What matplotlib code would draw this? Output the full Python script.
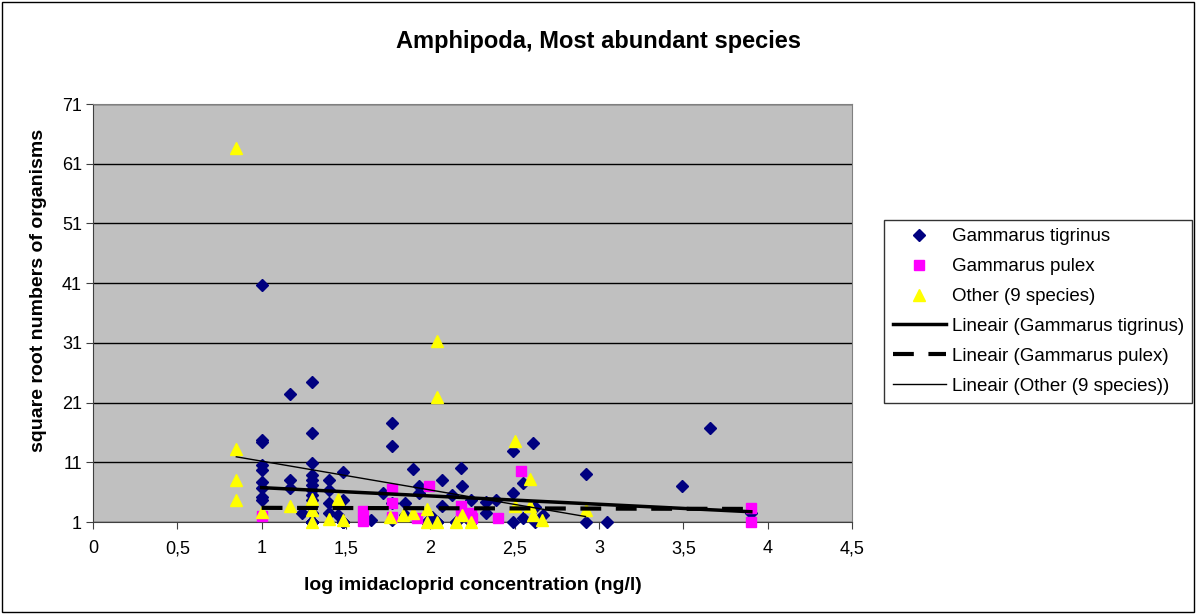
import numpy as np
import matplotlib
matplotlib.use("Agg")
import matplotlib.pyplot as plt
from matplotlib.patches import Rectangle
from matplotlib.ticker import FuncFormatter

plt.rcParams["font.family"] = ["Liberation Sans", "DejaVu Sans"]

# Gammarus tigrinus (log concentration, sqrt numbers)
# the zero counts (y=1) sit under the yellow triangles
tig_x = [1.0, 1.0, 1.0, 1.0, 1.0, 1.0, 1.0, 1.0, 1.0,
         1.17, 1.17, 1.17, 1.24,
         1.3, 1.3, 1.3, 1.3, 1.3, 1.3, 1.3, 1.3, 1.3, 1.3, 1.3,
         1.4, 1.4, 1.4, 1.4, 1.45, 1.48, 1.48,
         1.65, 1.72, 1.77, 1.77, 1.77, 1.77, 1.85, 1.85, 1.9, 1.93, 1.93,
         2.01, 2.07, 2.07, 2.13, 2.18, 2.19, 2.24, 2.33, 2.33, 2.39,
         2.49, 2.49, 2.49, 2.55, 2.55, 2.61, 2.62, 2.62, 2.67,
         2.92, 2.92, 3.05, 3.49, 3.66, 3.9,
         1.3, 1.3, 1.3, 1.3, 1.3, 1.3, 1.3, 1.3, 1.3, 1.3, 1.3, 1.3,
         1.48, 1.48, 1.48, 1.48, 1.98, 1.98, 1.98, 2.04, 2.04, 2.04,
         2.15, 2.15, 2.24, 2.24]
tig_y = [40.7, 14.7, 14.4, 10.5, 9.7, 7.7, 6.7, 5.2, 4.7,
         22.4, 8.0, 6.7, 2.5,
         24.4, 15.9, 10.9, 8.9, 8.0, 7.2, 6.4, 5.5, 4.7, 3.7, 2.5,
         8.0, 6.4, 4.2, 2.5, 2.2, 9.4, 4.7,
         1.3, 5.9, 17.6, 13.7, 4.2, 1.3, 4.2, 2.2, 9.9, 7.0, 5.9,
         1.8, 8.0, 3.7, 5.5, 10.0, 7.0, 4.7, 4.3, 2.5, 4.7,
         12.9, 5.9, 1.0, 7.5, 1.7, 14.2, 3.5, 1.0, 2.2,
         9.0, 1.0, 1.0, 7.0, 16.7, 2.5,
         1.0, 1.0, 1.0, 1.0, 1.0, 1.0, 1.0, 1.0, 1.0, 1.0, 1.0, 1.0,
         1.0, 1.0, 1.0, 1.0, 1.0, 1.0, 1.0, 1.0, 1.0, 1.0,
         1.0, 1.0, 1.0, 1.0]

# Gammarus pulex
pul_x = [1.0, 1.6, 1.6, 1.77, 1.77, 1.77, 1.92, 1.99, 2.18, 2.18,
         2.24, 2.25, 2.4, 2.54, 3.9, 3.9]
pul_y = [2.0, 2.8, 1.2, 6.5, 4.2, 1.8, 1.7, 7.0, 3.7, 2.2,
         2.5, 1.7, 1.7, 9.5, 3.3, 1.0]

# Other (9 species)
oth_x = [0.85, 0.85, 0.85, 0.85, 1.0, 1.17, 1.3, 1.3, 1.3, 1.4, 1.45, 1.48,
         1.76, 1.84, 1.9, 1.98, 1.98, 2.04, 2.04, 2.04, 2.15, 2.19, 2.24,
         2.5, 2.5, 2.59, 2.59, 2.61, 2.66, 2.92]
oth_y = [63.6, 13.2, 8.0, 4.7, 2.7, 3.7, 4.9, 3.0, 1.0, 1.5, 4.9, 1.3,
         1.8, 2.2, 2.5, 3.2, 1.0, 1.0, 31.3, 21.9, 1.0, 2.2, 1.0,
         14.6, 3.7, 8.2, 3.7, 2.2, 1.3, 3.0]

x_ticks = [0, 0.5, 1, 1.5, 2, 2.5, 3, 3.5, 4, 4.5]
y_ticks = [1, 11, 21, 31, 41, 51, 61, 71]


def trend(x, y):
    x = np.asarray(x)
    a, b = np.polyfit(x, np.asarray(y), 1)
    xs = np.array([x.min(), x.max()])
    return xs, a * xs + b


fig = plt.figure(figsize=(11.98, 6.14), dpi=100)
fig.patches.append(Rectangle((0.002, 0.003), 0.995, 0.994, transform=fig.transFigure,
                             fill=False, edgecolor="black", linewidth=1))

ax = fig.add_axes([0.0776, 0.1498, 0.6336, 0.6808])
ax.set_facecolor("#C0C0C0")

ax.plot(tig_x, tig_y, linestyle="none", marker="D", ms=6.5, color="#000080",
        label="Gammarus tigrinus", zorder=3, clip_on=False)
ax.plot(pul_x, pul_y, linestyle="none", marker="s", ms=7, color="#FF00FF",
        label="Gammarus pulex", zorder=3, clip_on=False)
ax.plot(oth_x, oth_y, linestyle="none", marker="^", ms=8.5, color="#FFFF00",
        label="Other (9 species)", zorder=3, clip_on=False)

tx, ty = trend(tig_x, tig_y)
ax.plot(tx, ty, color="black", lw=2.5, label="Lineair (Gammarus tigrinus)", zorder=4)
px, py = trend(pul_x, pul_y)
ax.plot(px, py, color="black", lw=3, linestyle=(0, (5, 3.5)),
        label="Lineair (Gammarus pulex)", zorder=4)
ox, oy = trend(oth_x, oth_y)
ax.plot(ox, oy, color="black", lw=1, label="Lineair (Other (9 species))", zorder=4)

ax.set_xlim(0, 4.5)
ax.set_ylim(1, 71)
ax.set_xticks(x_ticks)
ax.set_yticks(y_ticks)
ax.xaxis.set_major_formatter(FuncFormatter(lambda v, p: f"{v:g}".replace(".", ",")))
ax.tick_params(labelsize=13, length=5, color="#404040")
ax.tick_params(axis="x", pad=8)
ax.tick_params(axis="y", pad=3)
ax.grid(axis="y", color="black", linewidth=1)
ax.set_axisbelow(True)
for side in ["left", "bottom"]:
    ax.spines[side].set_color("#404040")
for side in ["top", "right"]:
    ax.spines[side].set_color("#808080")

ax.set_xlabel("log imidacloprid concentration (ng/l)", fontsize=14, fontweight="bold", labelpad=14)
ax.set_ylabel("square root numbers of organisms", fontsize=14, fontweight="bold")
ax.yaxis.set_label_coords(-0.06, 0.555)
fig.text(0.5, 0.932, "Amphipoda, Most abundant species", ha="center", va="center",
         fontsize=17, fontweight="bold")

leg = ax.legend(loc="upper left", bbox_to_anchor=(0.738, 0.642), bbox_transform=fig.transFigure,
                fontsize=13.5, frameon=True, fancybox=False, handlelength=2.83,
                handletextpad=0.32, borderpad=0.45, labelspacing=0.68, borderaxespad=0)
leg.get_frame().set_edgecolor("black")
leg.get_frame().set_linewidth(1)

fig.savefig("out.png", dpi=100)
